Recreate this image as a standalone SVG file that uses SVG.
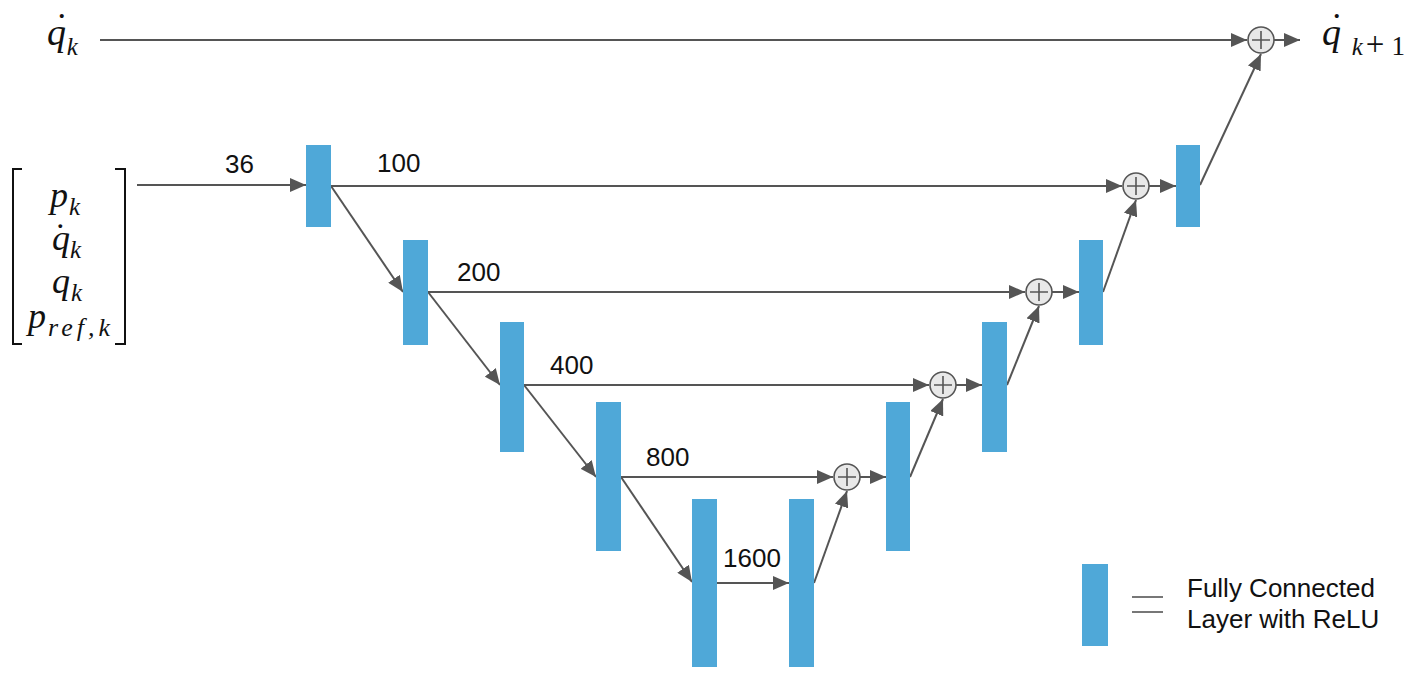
<svg xmlns="http://www.w3.org/2000/svg" width="1417" height="674" viewBox="0 0 1417 674">
<style>
.bar{fill:#4fa8d8}
.ln{stroke:#555;stroke-width:2;fill:none}
.ar{stroke:#555;stroke-width:2;fill:none;marker-end:url(#ah)}
.sum circle{fill:#e8e8e8;stroke:#555;stroke-width:1.6}
.sum path{stroke:#555;stroke-width:1.6;fill:none}
.num{font-family:"Liberation Sans",Arial,sans-serif;font-size:26px;fill:#111}
.leg{font-family:"Liberation Sans",Arial,sans-serif;font-size:26px;fill:#111}
.m{font-family:"Liberation Serif","Times New Roman",serif;font-style:italic;fill:#111}
.up{font-style:normal}
.br{stroke:#111;stroke-width:2;fill:none}
</style>
<defs>
<marker id="ah" markerUnits="userSpaceOnUse" markerWidth="18" markerHeight="14" refX="16" refY="7" orient="auto">
<path d="M0,0 L16,7 L0,14 z" fill="#555"/>
</marker>
</defs>

<g id="connectors">
<line class="ar" x1="100" y1="40" x2="1247" y2="40"/>
<line class="ar" x1="1274" y1="40" x2="1300" y2="40"/>
<line class="ar" x1="137" y1="185" x2="306" y2="185"/>
<line class="ar" x1="331" y1="186" x2="1122" y2="186"/>
<line class="ar" x1="1149" y1="186" x2="1176" y2="186"/>
<line class="ar" x1="331" y1="186" x2="403" y2="292"/>
<line class="ar" x1="428" y1="292" x2="1025" y2="292"/>
<line class="ar" x1="1052" y1="292" x2="1079" y2="292"/>
<line class="ar" x1="428" y1="292" x2="500" y2="385"/>
<line class="ar" x1="524" y1="385" x2="929" y2="385"/>
<line class="ar" x1="956" y1="385" x2="982" y2="385"/>
<line class="ar" x1="524" y1="385" x2="596" y2="477"/>
<line class="ar" x1="621" y1="477" x2="833" y2="477"/>
<line class="ar" x1="860" y1="477" x2="886" y2="477"/>
<line class="ar" x1="621" y1="477" x2="692" y2="582"/>
<line class="ar" x1="717" y1="583" x2="789" y2="583"/>
<line class="ar" x1="814" y1="583" x2="847" y2="491"/>
<line class="ar" x1="910" y1="477" x2="943" y2="399"/>
<line class="ar" x1="1007" y1="385" x2="1039" y2="306"/>
<line class="ar" x1="1103" y1="292" x2="1136" y2="200"/>
<line class="ar" x1="1200" y1="185" x2="1261" y2="54"/>
</g>

<g id="bar1"><rect class="bar" x="306" y="145" width="25" height="82"/></g>
<g id="bar2"><rect class="bar" x="403" y="240" width="25" height="105"/></g>
<g id="bar3"><rect class="bar" x="500" y="322" width="24" height="130"/></g>
<g id="bar4"><rect class="bar" x="596" y="402" width="25" height="149"/></g>
<g id="bar5"><rect class="bar" x="692" y="499" width="25" height="168"/></g>
<g id="bar6"><rect class="bar" x="789" y="499" width="25" height="168"/></g>
<g id="bar7"><rect class="bar" x="886" y="402" width="24" height="149"/></g>
<g id="bar8"><rect class="bar" x="982" y="322" width="25" height="130"/></g>
<g id="bar9"><rect class="bar" x="1079" y="240" width="24" height="105"/></g>
<g id="bar10"><rect class="bar" x="1176" y="145" width="24" height="82"/></g>

<g id="sum-top" class="sum"><circle cx="1261" cy="40" r="13"/><path d="M1252,40 H1270 M1261,31 V49"/></g>
<g id="sum100" class="sum"><circle cx="1136" cy="186" r="13"/><path d="M1127,186 H1145 M1136,177 V195"/></g>
<g id="sum200" class="sum"><circle cx="1039" cy="292" r="13"/><path d="M1030,292 H1048 M1039,283 V301"/></g>
<g id="sum400" class="sum"><circle cx="943" cy="385" r="13"/><path d="M934,385 H952 M943,376 V394"/></g>
<g id="sum800" class="sum"><circle cx="847" cy="477" r="13"/><path d="M838,477 H856 M847,468 V486"/></g>

<g id="labels">
<text class="num" x="225" y="173">36</text>
<text class="num" x="377" y="172">100</text>
<text class="num" x="457" y="281">200</text>
<text class="num" x="550" y="374">400</text>
<text class="num" x="646" y="466">800</text>
<text class="num" x="723" y="567">1600</text>
</g>

<g id="qdot-in">
<text class="m" x="47" y="45" font-size="38">q<tspan dx="-13" dy="-6">˙</tspan><tspan dx="1" dy="16" font-size="25">k</tspan></text>
</g>

<g id="qdot-out">
<text class="m" x="1322" y="45" font-size="38">q<tspan dx="-13" dy="-6">˙</tspan><tspan dx="11" dy="16" font-size="25">k</tspan><tspan class="up" dx="3" font-size="33">+</tspan><tspan class="up" dx="7" font-size="27">1</tspan></text>
</g>

<g id="input-vector">
<path class="br" d="M22,169 H13 V344 H22"/>
<path class="br" d="M115,169 H125 V344 H115"/>
<text class="m" x="50" y="207" font-size="36">p<tspan font-size="25" dx="1" dy="8">k</tspan></text>
<text class="m" x="52" y="250" font-size="36">q<tspan dx="-18" dy="-2">˙</tspan><tspan font-size="25" dx="6" dy="10">k</tspan></text>
<text class="m" x="52" y="293" font-size="36">q<tspan font-size="25" dx="1" dy="8">k</tspan></text>
<text class="m" x="28" y="328" font-size="36">p<tspan font-size="26" dx="2" dy="8" letter-spacing="4">ref,k</tspan></text>
</g>

<g id="legend">
<rect class="bar" x="1082" y="564" width="26" height="82"/>
<line class="ln" x1="1132" y1="597" x2="1163" y2="597" style="stroke:#777"/>
<line class="ln" x1="1132" y1="612" x2="1163" y2="612" style="stroke:#777"/>
<text class="leg" x="1187" y="597">Fully Connected</text>
<text class="leg" x="1187" y="628">Layer with ReLU</text>
</g>
</svg>
